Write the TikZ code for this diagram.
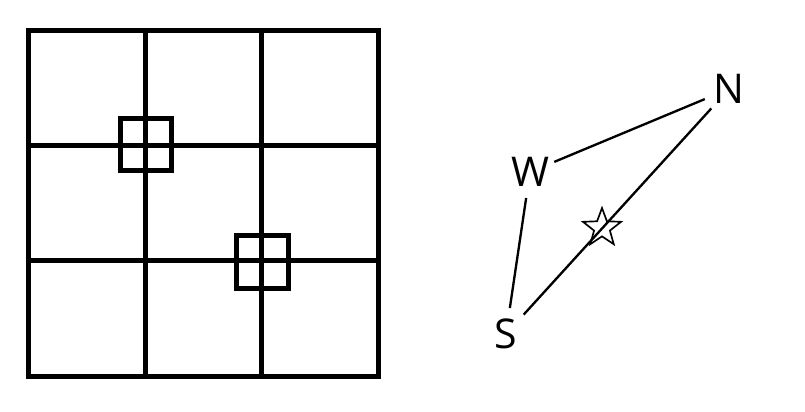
\documentclass[tikz,border=0pt]{standalone}
\usepackage{fontspec}
\setmainfont{Open Sans}
\usetikzlibrary{shapes.geometric}

\begin{document}
\begin{tikzpicture}[x=0.03cm,y=-0.03cm]
    \tikzstyle{gridline}=[line width=0.15cm]
    \tikzstyle{dir}=[circle, inner sep=0pt, minimum size=1.56cm,
                     font=\fontsize{35}{40}\selectfont]
    \tikzstyle{edge}=[line width=0.07cm]
    \useasboundingbox (0,0) rectangle (805,411);

    % Draw the 3x3 board
    \draw [gridline] (28.5,30) rectangle (378,376);
    \foreach \x in {145,261.5}
        \draw [gridline] (\x,30) -- (\x,376);
    \foreach \y in {145,260}
        \draw [gridline] (28.5,\y) -- (378,\y);

    % Small squares on two crossings
    \draw [gridline] (120,118) rectangle (171,170.5);
    \draw [gridline] (236.5,235) rectangle (288.5,288.5);

    % Compass points
    \node [dir] (north) at (729,89) {N};
    \node [dir] (west)  at (530,172) {W};
    \node [dir] (south) at (506,334) {S};
    \node [star, star points=5, star point ratio=2.4, draw, line width=0.05cm,
           minimum size=1.2cm, inner sep=0pt] (mark) at (602,228) {};

    \draw [edge] (west) -- (north);
    \draw [edge] (west) -- (south);
    \draw [edge] (south) -- (north);
\end{tikzpicture}
\end{document}
